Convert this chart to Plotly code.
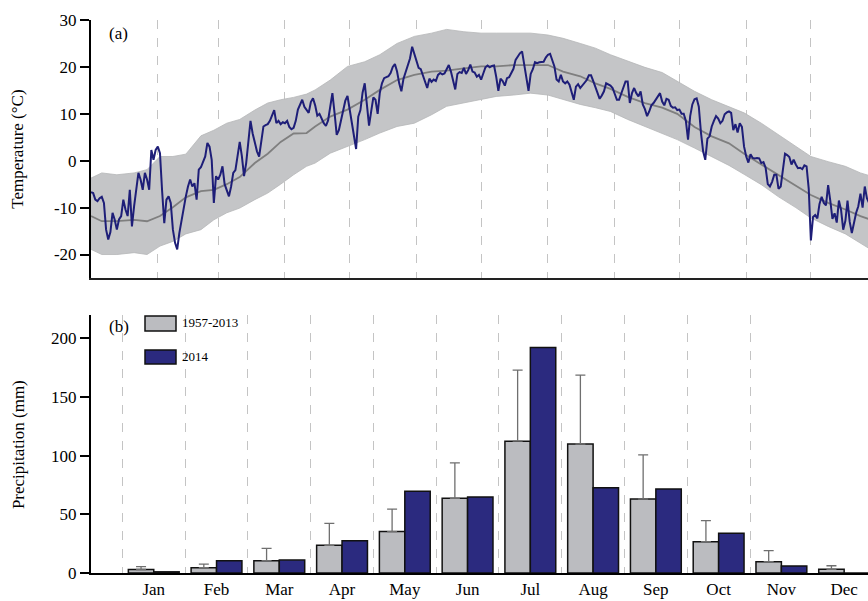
import plotly.graph_objects as go

# ---------------- data ----------------
# Daily mean air temperature in 2014 (deg C), day index 0 = 1 Jan
temp_2014 = [
    -6.7, -6.9, -8.3, -8.6, -8.0, -7.7, -9.0, -14.7, -16.8, -15.2,
    -11.1, -12.6, -14.7, -12.5, -11.8, -8.3, -10.4, -11.8, -6.2, -14.0,
    -9.7, -6.0, -2.6, -4.0, -6.2, -2.6, -4.0, -6.2, 2.3, 0.2,
    2.3, 3.0, 1.6, -6.5, -13.3, -8.3, -7.6, -9.0, -14.7, -17.5,
    -18.9, -15.4, -12.5, -9.7, -7.6, -5.5, -4.0, -5.5, -4.8, -8.3,
    -1.9, -1.4, -0.2, 0.9, 3.8, 3.0, 0.2, -9.0, -3.3, -4.0,
    -3.0, -1.2, -5.0, -6.5, -7.6, -5.5, -2.6, -2.0, 1.5, 4.0,
    1.0, -3.3, -0.5, 4.0, 8.5, 5.8, 4.0, 2.0, 0.9, 4.0,
    7.3, 7.6, 7.8, 8.5, 9.6, 10.8, 8.0, 8.5, 7.8, 8.2,
    8.0, 8.5, 7.2, 6.7, 7.0, 8.5, 10.9, 12.0, 13.0, 11.5,
    10.7, 10.2, 12.5, 13.3, 11.8, 9.6, 10.0, 9.0, 8.0, 7.4,
    8.6, 11.5, 14.4, 10.2, 5.5, 6.5, 8.8, 11.0, 12.8, 13.8,
    11.0, 8.5, 5.9, 2.5, 9.4, 10.8, 14.5, 16.5, 12.0, 7.5,
    10.5, 13.5, 13.0, 10.0, 14.5, 16.5, 17.6, 17.8, 18.0, 18.7,
    20.0, 20.6, 19.0, 16.5, 14.8, 17.5, 19.0, 20.5, 21.8, 24.3,
    22.8, 21.0, 19.8, 19.5, 18.0, 17.0, 15.5, 17.5, 16.8, 17.3,
    17.0, 18.3, 18.7, 18.4, 18.6, 19.5, 20.4, 19.0, 17.0, 15.2,
    18.5, 18.9, 18.7, 19.8, 18.5, 19.3, 20.5, 19.0, 18.8, 17.9,
    18.3, 17.3, 18.6, 19.9, 20.3, 19.9, 20.2, 20.3, 17.9, 14.9,
    17.5, 17.0, 16.0, 17.6, 17.8, 18.6, 19.6, 21.5, 22.2, 22.9,
    23.3, 20.2, 17.9, 14.9, 18.5, 19.5, 21.0, 20.8, 21.0, 21.1,
    21.1, 22.0, 22.6, 22.8, 21.5, 20.1, 17.3, 16.9, 18.3, 16.9,
    16.5, 16.9, 16.2, 14.8, 13.0, 15.8, 16.3, 15.5, 16.0, 16.7,
    17.2, 18.2, 18.2, 17.0, 15.8, 14.2, 13.2, 13.9, 14.8, 16.5,
    16.2, 16.0, 15.5, 14.0, 13.0, 13.0, 14.2, 15.5, 16.9, 16.9,
    12.3, 14.4, 15.5, 14.4, 13.7, 14.8, 12.0, 11.0, 9.5, 10.5,
    11.8, 12.3, 13.0, 13.5, 14.4, 12.6, 11.8, 13.2, 13.0, 11.7,
    11.3, 11.4, 10.8, 10.9, 10.0, 10.0, 8.5, 4.5, 9.5, 12.0,
    13.1, 13.3, 11.5, 6.0, 2.0, 0.2, 4.7, 5.2, 7.3, 8.5,
    9.5, 9.0, 8.0, 8.5, 9.9, 10.3, 10.5, 10.2, 6.5, 7.8,
    6.0, 8.0, 7.2, 3.0, 0.9, -0.4, 1.4, 0.6, 0.5, 0.6,
    0.5, -0.5, -0.3, -1.5, -5.0, -5.5, -4.5, -3.0, -3.0, -6.0,
    -5.5, -2.0, 1.5, 1.2, 0.8, -0.8, 0.2, -0.8, -1.6, -1.5,
    -1.8, -1.0, -1.2, -6.0, -17.0, -12.0, -11.6, -12.3, -9.2, -7.7,
    -9.0, -9.5, -5.2, -8.5, -12.4, -11.2, -13.2, -8.5, -10.5, -14.7,
    -12.8, -8.5, -13.0, -15.4, -12.9, -11.1, -9.7, -7.0, -10.0, -5.5,
    -8.0, -9.0,
]

# Long-term (1957-2013) daily climatology read at sample days
clim_days = [0, 5, 12, 20, 26, 32, 38, 44, 51, 57, 63, 69, 76, 82, 88, 94,
             100, 104, 111, 119, 127, 134, 142, 150, 158, 165, 173, 181, 188,
             196, 204, 212, 219, 227, 234, 241, 249, 257, 265, 272, 280, 288,
             296, 303, 311, 319, 327, 334, 342, 350, 357, 362]
clim_mean = [-11.8, -12.9, -12.9, -12.6, -12.9, -11.8, -9.9, -7.8, -6.5, -6.2,
             -5.0, -3.5, -0.5, 1.5, 4.0, 5.8, 5.9, 7.3, 9.4, 10.9, 13.0, 15.1,
             17.2, 18.3, 19.0, 19.2, 19.7, 20.1, 20.1, 20.4, 20.4, 20.4, 19.0,
             18.0, 16.5, 15.3, 13.6, 12.3, 11.3, 10.0, 7.2, 5.2, 3.7, 1.5,
             -0.8, -3.0, -5.2, -7.3, -9.0, -10.4, -11.8, -12.6]
clim_upper = [-3.7, -2.6, -3.0, -2.6, -1.9, 0.9, 0.9, 1.4, 5.3, 6.5, 8.0, 8.8,
              10.8, 12.3, 13.0, 13.5, 14.2, 15.1, 17.2, 20.1, 21.1, 22.6, 25.0,
              26.5, 27.2, 28.0, 27.5, 27.2, 27.2, 27.2, 27.2, 26.8, 26.1, 25.0,
              24.0, 22.6, 21.2, 19.9, 18.8, 17.0, 14.8, 13.0, 11.5, 10.2, 8.0,
              5.5, 3.0, 0.9, -0.2, -1.2, -2.6, -3.3]
clim_lower = [-18.9, -20.0, -20.0, -19.6, -20.0, -18.2, -17.2, -15.6, -14.7,
              -12.6, -11.1, -10.1, -8.3, -6.9, -5.0, -3.0, -1.2, -0.5, 1.6, 3.0,
              4.5, 5.9, 7.3, 8.0, 9.8, 11.6, 12.3, 13.0, 13.7, 14.0, 14.4, 14.0,
              13.0, 12.0, 11.3, 10.5, 8.8, 7.3, 5.9, 4.5, 2.7, 0.9, -1.0, -2.9,
              -5.1, -7.7, -10.0, -12.2, -14.0, -15.6, -17.7, -19.0]

# Month boundaries (day index) for the dashed guides in panel (a)
month_bounds = [31, 59, 90, 120, 151, 181, 212, 243, 273, 304, 334]
temp_ticks = [-20, -10, 0, 10, 20, 30]
temp_ticktext = ["-20", "-10", "0", "10", "20", "30"]

# Monthly precipitation (mm)
months = ["Jan", "Feb", "Mar", "Apr", "May", "Jun",
          "Jul", "Aug", "Sep", "Oct", "Nov", "Dec"]
precip_clim = [3.0, 4.5, 10.5, 23.6, 35.3, 63.7, 112.4, 110.0, 63.1, 26.7, 9.7, 3.1]
precip_clim_sd = [2.5, 3.0, 10.5, 18.8, 19.1, 30.2, 60.6, 58.7, 37.6, 17.9, 9.3, 3.1]
precip_2014 = [1.0, 10.5, 11.0, 27.6, 69.7, 64.8, 192.3, 72.8, 71.7, 33.9, 6.0, 0.0]
precip_ticks = [0, 50, 100, 150, 200]

# ---------------- style ----------------
FONT = "Liberation Serif, Times New Roman, serif"
NAVY_LINE = "#1e1e78"
NAVY_BAR = "#2b2a7f"
GRAY_BAR = "#bbbcc0"
BAND = "#c4c5c7"
GRID = "#c4c4c4"

days = list(range(len(temp_2014)))
mpos = list(range(len(months)))

fig = go.Figure()

fig.add_trace(go.Scatter(x=clim_days, y=clim_upper, mode="lines",
                         line=dict(color="#b5b6b8", width=0.8),
                         showlegend=False, hoverinfo="skip",
                         xaxis="x", yaxis="y"))
fig.add_trace(go.Scatter(x=clim_days, y=clim_lower, mode="lines",
                         line=dict(color="#b5b6b8", width=0.8),
                         fill="tonexty", fillcolor=BAND,
                         showlegend=False, hoverinfo="skip",
                         xaxis="x", yaxis="y"))
fig.add_trace(go.Scatter(x=clim_days, y=clim_mean, mode="lines",
                         line=dict(color="#7f7f7f", width=1.8),
                         name="1957-2013 mean", showlegend=False,
                         xaxis="x", yaxis="y"))
fig.add_trace(go.Scatter(x=days, y=temp_2014, mode="lines",
                         line=dict(color=NAVY_LINE, width=2),
                         name="2014", showlegend=False,
                         xaxis="x", yaxis="y"))

fig.add_trace(go.Bar(x=mpos, y=precip_clim, name="1957-2013",
                     marker=dict(color=GRAY_BAR, line=dict(color="#111111", width=1.5)),
                     error_y=dict(type="data", array=precip_clim_sd, symmetric=False,
                                  arrayminus=[0] * len(months),
                                  color="#6f6f6f", thickness=1.3, width=5),
                     showlegend=False, xaxis="x2", yaxis="y2"))
fig.add_trace(go.Bar(x=mpos, y=precip_2014, name="2014",
                     marker=dict(color=NAVY_BAR, line=dict(color="#111111", width=1.5)),
                     showlegend=False, xaxis="x2", yaxis="y2"))

top_dom = [0.5335, 1.0]
bot_dom = [0.0, 0.4665]

fig.update_layout(
    width=868, height=601,
    margin=dict(l=91, r=0, t=20, b=28, autoexpand=False),
    paper_bgcolor="white", plot_bgcolor="white",
    font=dict(family=FONT, size=17, color="black"),
    barmode="group", bargap=0.19, bargroupgap=0.0,
    showlegend=False,
    xaxis=dict(domain=[0, 1], anchor="y", range=[0, 360.5], automargin=False,
               tickmode="array", tickvals=month_bounds, showticklabels=False,
               ticks="", showgrid=True, gridcolor=GRID, griddash="dash",
               gridwidth=1, zeroline=False,
               showline=True, linecolor="#222222", linewidth=2),
    yaxis=dict(domain=top_dom, anchor="x", range=[-25, 30], automargin=False,
               tickmode="array", tickvals=temp_ticks, ticktext=temp_ticktext,
               ticks="outside", ticklen=9, tickwidth=2, tickcolor="black",
               showgrid=False, zeroline=False,
               showline=True, linecolor="black", linewidth=2,
               tickfont=dict(size=17)),
    xaxis2=dict(domain=[0, 1], anchor="y2", range=[-1, 11.38], automargin=False,
                tickmode="array", tickvals=mpos, ticktext=months,
                ticks="", showgrid=False, zeroline=False,
                minor=dict(tickmode="array",
                           tickvals=[p - 0.5 for p in mpos[:-1]],
                           showgrid=True, gridcolor=GRID, griddash="dash",
                           gridwidth=1, ticks=""),
                showline=True, linecolor="black", linewidth=2,
                tickfont=dict(size=17)),
    yaxis2=dict(domain=bot_dom, anchor="x2", range=[0, 220], automargin=False,
                tickmode="array", tickvals=precip_ticks,
                ticks="outside", ticklen=9, tickwidth=2, tickcolor="black",
                showgrid=False, zeroline=False,
                showline=True, linecolor="black", linewidth=2,
                tickfont=dict(size=17)),
)

# axis titles
fig.add_annotation(text="Temperature (°C)", x=-0.094, y=0.767, xref="paper", yref="paper",
                   xanchor="center", yanchor="middle", textangle=-90, showarrow=False,
                   font=dict(size=17))
fig.add_annotation(text="Precipitation (mm)", x=-0.094, y=0.233, xref="paper", yref="paper",
                   xanchor="center", yanchor="middle", textangle=-90, showarrow=False,
                   font=dict(size=17))

# panel labels
fig.add_annotation(text="(a)", x=0.02, y=0.976, xref="paper", yref="paper",
                   xanchor="left", yanchor="middle", showarrow=False,
                   font=dict(size=17))
fig.add_annotation(text="(b)", x=0.02, y=0.445, xref="paper", yref="paper",
                   xanchor="left", yanchor="middle", showarrow=False,
                   font=dict(size=17))

# legend drawn as boxes + text
fig.add_shape(type="rect", xref="paper", yref="paper",
              x0=0.0695, x1=0.1094, y0=0.4376, y1=0.4647,
              fillcolor=GRAY_BAR, line=dict(color="#111111", width=1.5))
fig.add_shape(type="rect", xref="paper", yref="paper",
              x0=0.0695, x1=0.1094, y0=0.3779, y1=0.4033,
              fillcolor=NAVY_BAR, line=dict(color="#111111", width=1.5))
fig.add_annotation(text="1957-2013", x=0.1145, y=0.4521, xref="paper", yref="paper",
                   xanchor="left", yanchor="middle", showarrow=False,
                   font=dict(size=13))
fig.add_annotation(text="2014", x=0.1145, y=0.3906, xref="paper", yref="paper",
                   xanchor="left", yanchor="middle", showarrow=False,
                   font=dict(size=13))

fig.write_html(
    "out.html",
    config={"displayModeBar": False},
    post_script="document.body.style.margin='0px';"
                "document.documentElement.style.overflow='hidden';",
)
